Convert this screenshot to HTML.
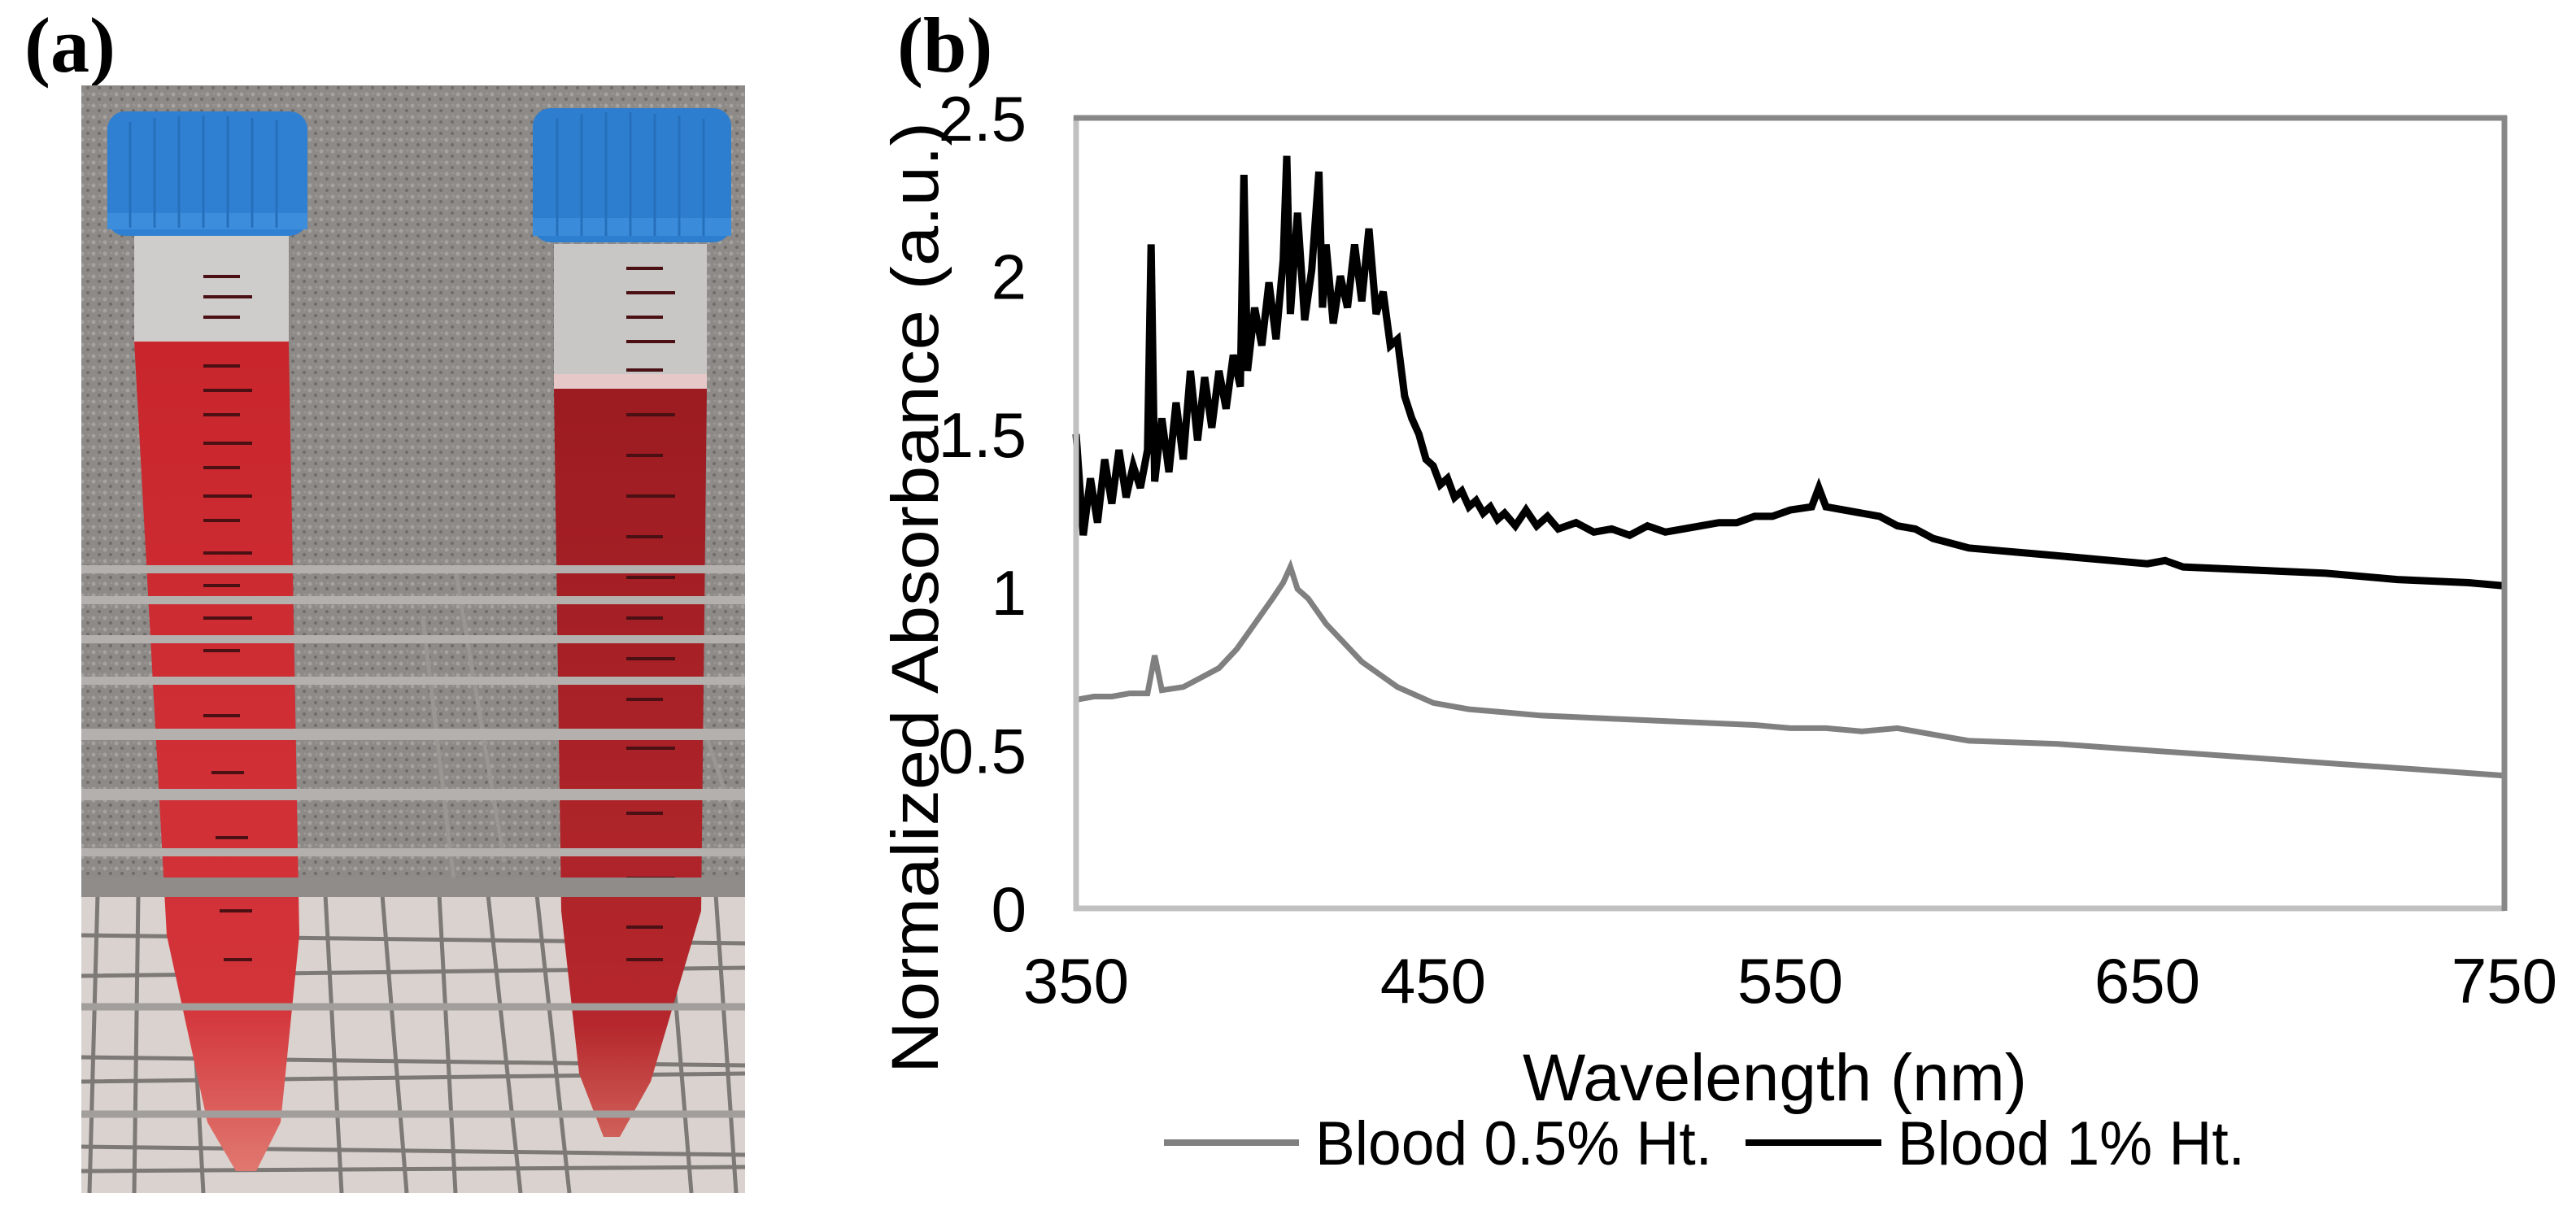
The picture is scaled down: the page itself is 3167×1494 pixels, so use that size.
<!DOCTYPE html>
<html><head><meta charset="utf-8"><style>
html,body{margin:0;padding:0;background:#fff;}
svg{display:block;font-family:"Liberation Sans",Arial,sans-serif;}
</style></head><body>
<svg id="fig" width="3167" height="1494" viewBox="0 0 3167 1494" xmlns="http://www.w3.org/2000/svg">
<rect width="3167" height="1494" fill="#fff"/>
<text x="30" y="88" font-family="Liberation Serif,serif" font-size="96" font-weight="bold">(a)</text>
<text x="1103" y="88" font-family="Liberation Serif,serif" font-size="96" font-weight="bold">(b)</text>

<g>
  <defs><clipPath id="pc"><rect x="100" y="105" width="816" height="1362"/></clipPath>
  <linearGradient id="red1" x1="0" y1="0" x2="0" y2="1"><stop offset="0" stop-color="#c8262c"/><stop offset="0.8" stop-color="#d3343a"/><stop offset="1" stop-color="#e07870"/></linearGradient>
  <linearGradient id="red2" x1="0" y1="0" x2="0" y2="1"><stop offset="0" stop-color="#9c1c22"/><stop offset="0.85" stop-color="#b5272c"/><stop offset="1" stop-color="#d0605a"/></linearGradient>
  <pattern id="grain" width="14" height="14" patternUnits="userSpaceOnUse"><rect width="14" height="14" fill="#8d8a87"/><circle cx="3" cy="4" r="2.5" fill="#a5a29f"/><circle cx="10" cy="10" r="2" fill="#6f6c69"/><circle cx="11" cy="3" r="1.5" fill="#9a9794"/></pattern>
  </defs>
  <g clip-path="url(#pc)">
    <rect x="100" y="105" width="816" height="1362" fill="url(#grain)"/>
    <rect x="100" y="1100" width="816" height="367" fill="#d9d2ce"/>
    <g stroke="#7d7976" stroke-width="5" fill="none">
      <path d="M120 1100 L110 1467 M170 1100 L165 1467 M230 1100 L250 1467 M400 1100 L420 1467 M470 1100 L500 1467 M540 1100 L560 1467 M600 1100 L640 1467 M660 1100 L700 1467 M820 1100 L850 1467 M880 1100 L905 1467"/>
      <path d="M100 1150 L916 1160 M100 1200 L916 1190 M100 1300 L916 1310 M100 1330 L916 1320 M100 1410 L916 1420 M100 1440 L916 1435"/>
      <path d="M260 760 L200 1100 M520 760 L560 1100 M560 700 L620 1060 M820 760 L900 1000" stroke="#9a9692"/>
    </g>
    <rect x="165" y="280" width="190" height="145" fill="#cfcccc"/>
    <polygon points="165,420 355,420 368,1150 345,1380 315,1440 290,1440 255,1380 205,1150" fill="url(#red1)"/>
    <rect x="681" y="300" width="188" height="175" fill="#c9c6c6"/>
    <rect x="681" y="460" width="188" height="22" fill="#e6c8c8"/>
    <polygon points="681,478 869,478 862,1120 800,1330 762,1398 742,1398 712,1320 690,1120" fill="url(#red2)"/>
    <g stroke="#4a1014" stroke-width="4">
      <path d="M250 340 H295 M250 365 H310 M250 390 H295 M250 450 H295 M250 480 H310 M250 510 H295 M250 545 H310 M250 575 H295 M250 610 H310 M250 640 H295 M250 680 H310 M250 720 H295 M250 760 H310 M250 800 H295 M250 840 H310 M250 880 H295 M260 950 H300 M265 1030 H305 M270 1120 H310 M275 1180 H310"/>
      <path d="M770 330 H815 M770 360 H830 M770 390 H815 M770 420 H830 M770 455 H815 M770 510 H830 M770 560 H815 M770 610 H830 M770 660 H815 M770 710 H830 M770 760 H815 M770 810 H830 M770 860 H815 M770 920 H830 M770 1000 H815 M770 1080 H830 M770 1140 H815 M770 1180 H815"/>
    </g>
    <rect x="132" y="137" width="246" height="153" rx="22" fill="#2f80d2"/>
    <rect x="132" y="262" width="246" height="20" fill="#3c8edd"/>
    <rect x="655" y="133" width="244" height="165" rx="22" fill="#2d7ecf"/>
    <rect x="655" y="268" width="244" height="22" fill="#3a8cdb"/>
    <g stroke="#2670bb" stroke-width="3">
      <path d="M160 150 V280 M190 145 V280 M220 143 V280 M250 142 V280 M280 143 V280 M310 145 V280 M340 148 V280"/>
      <path d="M685 145 V290 M715 140 V290 M745 138 V290 M775 138 V290 M805 140 V290 M835 142 V290 M865 146 V290"/>
    </g>
    <g stroke="#b4b0ad" fill="none">
      <path d="M100 700 H916 M100 738 H916 M100 786 H916 M100 837 H916 M100 1048 H916" stroke-width="10"/>
      <path d="M100 903 H916 M100 977 H916" stroke-width="14"/>
      <path d="M100 1238 H916 M100 1370 H916" stroke-width="9" stroke="#a29e9b"/>
      <path d="M100 1091 H916" stroke-width="24" stroke="#8f8c8a"/>
    </g>
  </g>
</g>

<g id="chart">
  <g id="yticks"></g>
  <g id="xticks"></g>
  <g id="series"></g>
  <line x1="1323" y1="142" x2="1323" y2="1120" stroke="#c0c0c0" stroke-width="7"/>
  <line x1="1320" y1="1117" x2="3079" y2="1117" stroke="#c0c0c0" stroke-width="7"/>
  <line x1="1320" y1="145" x2="3082" y2="145" stroke="#888" stroke-width="7"/>
  <line x1="3079" y1="142" x2="3079" y2="1120" stroke="#888" stroke-width="7"/>
  <text transform="translate(1153,735) rotate(-90)" text-anchor="middle" font-size="82" textLength="1170" lengthAdjust="spacingAndGlyphs">Normalized Absorbance (a.u.)</text>
  <text x="2182" y="1353" text-anchor="middle" font-size="82" textLength="620" lengthAdjust="spacingAndGlyphs">Wavelength (nm)</text>
  <g>
    <g>
      <line x1="1431" y1="1405" x2="1597" y2="1405" stroke="#808080" stroke-width="8"/>
      <text x="1617" y="1432" font-size="76" textLength="488" lengthAdjust="spacingAndGlyphs">Blood 0.5% Ht.</text>
    </g>
    <g>
      <line x1="2146" y1="1405" x2="2313" y2="1405" stroke="#000" stroke-width="8"/>
      <text x="2333" y="1432" font-size="76" textLength="427" lengthAdjust="spacingAndGlyphs">Blood 1% Ht.</text>
    </g>
  </g>
</g>
</svg>
<script>
const yTickValues = [0, 0.5, 1, 1.5, 2, 2.5];
const yTickLabels = ["0", "0.5", "1", "1.5", "2", "2.5"];
const xTickValues = [350, 450, 550, 650, 750];
const xTickLabels = ["350", "450", "550", "650", "750"];
const wl1 = [350,352,354,356,358,360,362,364,366,368,370,371,372,374,376,378,380,382,384,386,388,390,392,394,396,397,398,400,402,404,406,408,409,410,412,414,416,418,419,420,422,424,426,428,430,432,434,436,438,440,442,444,446,448,450,452,454,456,458,460,462,464,466,468,470,473,476,479,482,485,490,495,500,505,510,515,520,525,530,535,540,545,550,556,558,560,565,570,575,580,585,590,600,610,620,640,650,655,660,680,700,720,740,750];
const blood1 = [1.50,1.18,1.36,1.22,1.42,1.28,1.45,1.30,1.40,1.33,1.45,2.10,1.35,1.55,1.38,1.60,1.42,1.70,1.48,1.68,1.52,1.70,1.58,1.75,1.65,2.32,1.70,1.90,1.78,1.98,1.80,2.05,2.38,1.88,2.20,1.86,2.02,2.33,1.90,2.10,1.85,2.00,1.90,2.10,1.92,2.15,1.88,1.95,1.78,1.80,1.62,1.55,1.50,1.42,1.40,1.34,1.36,1.30,1.32,1.27,1.29,1.25,1.27,1.23,1.25,1.21,1.26,1.21,1.24,1.20,1.22,1.19,1.20,1.18,1.21,1.19,1.20,1.21,1.22,1.22,1.24,1.24,1.26,1.27,1.33,1.27,1.26,1.25,1.24,1.21,1.20,1.17,1.14,1.13,1.12,1.10,1.09,1.10,1.08,1.07,1.06,1.04,1.03,1.02];
const wl05 = [350,355,360,365,370,372,374,380,385,390,395,400,405,408,410,412,415,420,425,430,435,440,450,460,470,480,500,520,540,550,560,570,580,590,600,625,650,675,700,725,750];
const blood05 = [0.66,0.67,0.67,0.68,0.68,0.80,0.69,0.70,0.73,0.76,0.82,0.90,0.98,1.03,1.08,1.01,0.98,0.90,0.84,0.78,0.74,0.70,0.65,0.63,0.62,0.61,0.60,0.59,0.58,0.57,0.57,0.56,0.57,0.55,0.53,0.52,0.50,0.48,0.46,0.44,0.42];

const NS = "http://www.w3.org/2000/svg";
const X0 = 1323, X1 = 3079, Y0 = 1117, Y1 = 145;
function xs(v){ return X0 + (v - 350) * (X1 - X0) / 400; }
function ys(v){ return Y0 - v * (Y0 - Y1) / 2.5; }

const yg = document.getElementById('yticks');
yTickValues.forEach((v, i) => {
  const t = document.createElementNS(NS, 'text');
  
  
  t.setAttribute('x', 1262);
  t.setAttribute('y', ys(v) + 28);
  t.setAttribute('text-anchor', 'end');
  t.setAttribute('font-size', '78');
  t.textContent = yTickLabels[i];
  yg.appendChild(t);
});
const xg = document.getElementById('xticks');
xTickValues.forEach((v, i) => {
  const t = document.createElementNS(NS, 'text');
  
  
  t.setAttribute('x', xs(v));
  t.setAttribute('y', 1233);
  t.setAttribute('text-anchor', 'middle');
  t.setAttribute('font-size', '78');
  t.textContent = xTickLabels[i];
  xg.appendChild(t);
});
function drawLine(wl, vals, color, name, w){
  const p = document.createElementNS(NS, 'path');
  
  
  let d = '';
  wl.forEach((x, i) => { d += (i ? 'L' : 'M') + xs(x).toFixed(1) + ' ' + ys(vals[i]).toFixed(1); });
  p.setAttribute('d', d);
  p.setAttribute('fill', 'none');
  p.setAttribute('stroke', color);
  p.setAttribute('stroke-width', w);
  p.setAttribute('stroke-linejoin', 'miter');
  document.getElementById('series').appendChild(p);
}
drawLine(wl05, blood05, '#808080', 'series-blood-0.5-ht', 7);
drawLine(wl1, blood1, '#000', 'series-blood-1-ht', 9);
</script>
</body></html>
